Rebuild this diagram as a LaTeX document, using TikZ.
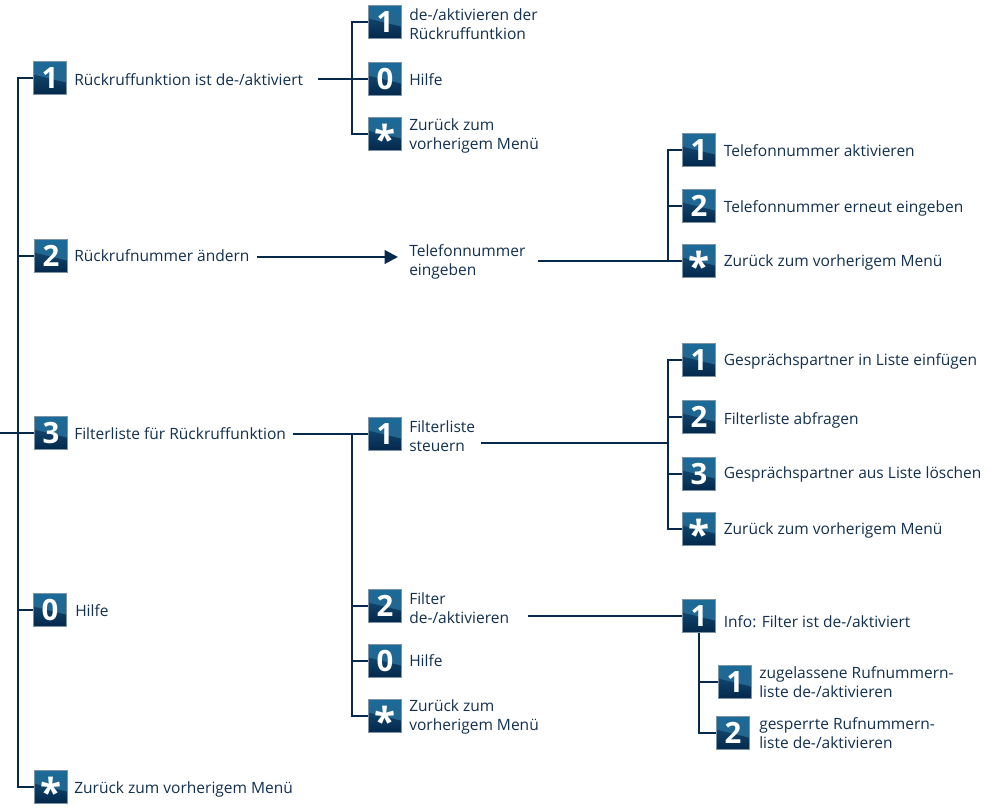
\documentclass[tikz,border=0pt]{standalone}
\usepackage{fontspec}
\setmainfont{Open Sans}
\usetikzlibrary{arrows.meta}
\definecolor{linie}{HTML}{06294C}
\definecolor{schrift}{HTML}{12304F}
\definecolor{tasteoben}{HTML}{1B6A98}
\definecolor{tastemitte}{HTML}{2A6389}
\definecolor{tastedunkel}{HTML}{1A5680}
\definecolor{tasteunten}{HTML}{03284B}
\definecolor{tasterand}{HTML}{7F93A6}
\tikzset{
    taste/.style={
        rectangle, draw=tasterand, line width=.5pt, minimum size=24.5pt, inner sep=0pt,
        top color=tasteoben, bottom color=tastemitte, text=white,
        font=\fontsize{22}{22}\selectfont\bfseries,
        path picture={
            \shade[top color=tastedunkel, bottom color=tasteunten]
                ([yshift=2.5pt]path picture bounding box.west) --
                ([yshift=-3.5pt]path picture bounding box.east) --
                (path picture bounding box.south east) --
                (path picture bounding box.south west) -- cycle;
        }
    },
    eintrag/.style={
        anchor=west, inner sep=0pt, align=left, text=schrift,
        font=\fontsize{11.65}{13.9}\selectfont
    },
    leitung/.style={draw=linie, line width=2.1pt, line join=miter},
}
\newcommand{\stern}{\raisebox{-14.5pt}[0pt][0pt]{\fontsize{29}{29}\selectfont *}}

\begin{document}
\begin{tikzpicture}[x=.75pt, y=-.75pt, >={Triangle[length=10pt,width=10pt]}]
    \useasboundingbox (0,0) rectangle (1004,811);

    % Hauptmenue
    \node[taste] (m1) at (50,78) {1};
    \node[taste] (m2) at (51,256) {2};
    \node[taste] (m3) at (51,433) {3};
    \node[taste] (m0) at (50,610) {0};
    \node[taste] (ms) at (51,787) {\stern};
    \node[eintrag] (tm1) at (74,79.5) {Rückruffunktion ist de-/aktiviert};
    \node[eintrag] (tm2) at (74,256) {Rückrufnummer ändern};
    \node[eintrag] (tm3) at (74,434) {Filterliste für Rückruffunktion};
    \node[eintrag] (tm0) at (75,610.5) {Hilfe};
    \node[eintrag] (tms) at (74,789) {Zurück zum vorherigem Menü};

    % Rueckruffunktion
    \node[taste] (a1) at (385,22) {1};
    \node[taste] (a0) at (385,79) {0};
    \node[taste] (as) at (385,134) {\stern};
    \node[eintrag] (ta1) at (409,24) {de-/aktivieren der\\Rückruffuntkion};
    \node[eintrag] (ta0) at (409,80) {Hilfe};
    \node[eintrag] (tas) at (409,136) {Zurück zum\\vorherigem Menü};

    % Rufnummer
    \node[eintrag] (tb) at (409,262) {Telefonnummer\\eingeben};
    \node[taste] (b1) at (699,150) {1};
    \node[taste] (b2) at (699,206) {2};
    \node[taste] (bs) at (699,261) {\stern};
    \node[eintrag] (tb1) at (723.5,151) {Telefonnummer aktivieren};
    \node[eintrag] (tb2) at (723.5,208) {Telefonnummer erneut eingeben};
    \node[eintrag] (tbs) at (723.5,262) {Zurück zum vorherigem Menü};

    % Filterliste
    \node[taste] (c1) at (385,434) {1};
    \node[taste] (c2) at (385,606) {2};
    \node[taste] (c0) at (385,661) {0};
    \node[taste] (cs) at (385,716) {\stern};
    \node[eintrag] (tc1) at (409,436) {Filterliste\\steuern};
    \node[eintrag] (tc2) at (409,608) {Filter\\de-/aktivieren};
    \node[eintrag] (tc0) at (409,661) {Hilfe};
    \node[eintrag] (tcs) at (409,717) {Zurück zum\\vorherigem Menü};

    \node[taste] (d1) at (699,360) {1};
    \node[taste] (d2) at (699,417) {2};
    \node[taste] (d3) at (699,474) {3};
    \node[taste] (ds) at (699,529) {\stern};
    \node[eintrag] (td1) at (723.5,361) {Gesprächspartner in Liste einfügen};
    \node[eintrag] (td2) at (723.5,420) {Filterliste abfragen};
    \node[eintrag] (td3) at (723.5,474) {Gesprächspartner aus Liste löschen};
    \node[eintrag] (tds) at (723.5,530) {Zurück zum vorherigem Menü};

    \node[taste] (e1) at (699,616) {1};
    \node[eintrag] (te1) at (723.5,622) {Info: Filter ist de-/aktiviert};
    \node[taste] (f1) at (735,682) {1};
    \node[taste] (f2) at (733,733) {2};
    \node[eintrag] (tf1) at (759,682) {zugelassene Rufnummern-\\liste de-/aktivieren};
    \node[eintrag] (tf2) at (759,733) {gesperrte Rufnummern-\\liste de-/aktivieren};

    % Stuetzpunkte
    \coordinate (ein) at (0,433);
    \coordinate (stamm) at (18,433);
    \coordinate (la) at (318,79);
    \coordinate (ja) at (352,79);
    \coordinate (lb) at (257,257);
    \coordinate (pb) at (398,257);
    \coordinate (lc) at (538,261);
    \coordinate (jb) at (668,261);
    \coordinate (ld) at (293,434);
    \coordinate (lf) at (481,443);
    \coordinate (jd) at (668,443);
    \coordinate (lg) at (528,616);

    % Leitungen
    \draw[leitung] (ein) -- (m3.west);
    \draw[leitung] (m1.west) -| (stamm) |- (ms.west);
    \draw[leitung] (stamm |- m2.west) -- (m2.west);
    \draw[leitung] (stamm |- m0.west) -- (m0.west);

    \draw[leitung] (la) -- (a0.west);
    \draw[leitung] (a1.west) -| (ja) |- (as.west);

    \draw[leitung, ->] (lb) -- (pb);
    \draw[leitung] (lc) -- (bs.west);
    \draw[leitung] (b1.west) -| (jb);
    \draw[leitung] (jb |- b2.west) -- (b2.west);

    \draw[leitung] (ld) -- (c1.west);
    \draw[leitung] (ja |- c1.west) |- (cs.west);
    \draw[leitung] (ja |- c2.west) -- (c2.west);
    \draw[leitung] (ja |- c0.west) -- (c0.west);

    \draw[leitung] (lf) -- (jd);
    \draw[leitung] (d1.west) -| (jd) |- (ds.west);
    \draw[leitung] (jd |- d2.west) -- (d2.west);
    \draw[leitung] (jd |- d3.west) -- (d3.west);

    \draw[leitung] (lg) -- (e1.west);
    \draw[leitung] (e1.south) |- (f2.west);
    \draw[leitung] (e1.south |- f1.west) -- (f1.west);
\end{tikzpicture}
\end{document}
